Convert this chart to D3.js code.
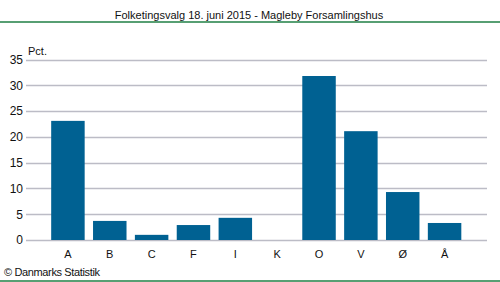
<!DOCTYPE html>
<html>
<head>
<meta charset="utf-8">
<script src="https://cdn.jsdelivr.net/npm/d3@7"></script>
<style>
  body { margin: 0; background: #fff; }
  text { font-family: "Liberation Sans", Arial, sans-serif; fill: #111; }
</style>
</head>
<body>
<div id="chart"></div>
<script>
const parties = ['A', 'B', 'C', 'F', 'I', 'K', 'O', 'V', 'Ø', 'Å']
const shares = [23.1, 3.7, 1.0, 2.9, 4.3, 0, 31.8, 21.1, 9.3, 3.3]
const yTicks = [0, 5, 10, 15, 20, 25, 30, 35]
const title = 'Folketingsvalg 18. juni 2015 - Magleby Forsamlingshus'

const w = 500, h = 282
const plotLeft = 26, plotRight = 487, plotTop = 59.5, plotBottom = 240

const svg = d3.select('#chart').append('svg')
              .attr('width', w)
              .attr('height', h)

// green frame lines
svg.append('line').attr('x1', 0).attr('x2', w).attr('y1', 22).attr('y2', 22)
   .attr('stroke', '#1f7f45').attr('stroke-width', 1.5)
svg.append('line').attr('x1', 0).attr('x2', w).attr('y1', 281).attr('y2', 281)
   .attr('stroke', '#1f7f45').attr('stroke-width', 1.5)

svg.append('text')
   .attr('x', 249).attr('y', 19)
   .attr('text-anchor', 'middle')
   .style('font-size', '11px')
   .text(title)

const xScale = d3.scaleBand()
                 .domain(parties)
                 .range([47, 465.5])
                 .paddingInner(0.2)
                 .paddingOuter(0.1)

const yScale = d3.scaleLinear()
                 .domain([0, 35])
                 .range([plotBottom, plotTop])

// grid
svg.append('g')
   .selectAll('line')
   .data(yTicks)
   .enter()
   .append('line')
   .attr('x1', plotLeft).attr('x2', plotRight)
   .attr('y1', d => Math.round(yScale(d)) + 0.5)
   .attr('y2', d => Math.round(yScale(d)) + 0.5)
   .attr('stroke', '#bcbcc6')
   .attr('stroke-width', 1.5)

const yAxis = svg.append('g')
                 .attr('transform', 'translate(' + plotLeft + ',0)')
                 .call(d3.axisLeft(yScale).tickValues(yTicks).tickSize(0).tickPadding(3))
yAxis.select('.domain').remove()
yAxis.selectAll('text').style('font-size', '12px').attr('fill', '#111')
     .style('font-family', '"Liberation Sans", Arial, sans-serif')

svg.append('text')
   .attr('x', 28).attr('y', 55)
   .style('font-size', '11px')
   .text('Pct.')

svg.selectAll('rect.bar')
   .data(parties)
   .enter()
   .append('rect')
   .attr('class', 'bar')
   .attr('x', d => xScale(d))
   .attr('y', (d, i) => yScale(shares[i]))
   .attr('width', xScale.bandwidth())
   .attr('height', (d, i) => plotBottom - yScale(shares[i]))
   .attr('fill', '#006192')

const xAxis = svg.append('g')
                 .attr('transform', 'translate(0,' + plotBottom + ')')
                 .call(d3.axisBottom(xScale).tickSize(0).tickPadding(10))
xAxis.select('.domain').remove()
xAxis.selectAll('text').style('font-size', '11px').attr('fill', '#111')
     .style('font-family', '"Liberation Sans", Arial, sans-serif')

svg.append('text')
   .attr('x', 4).attr('y', 276)
   .style('font-size', '11px')
   .attr('textLength', 96)
   .text('© Danmarks Statistik')
</script>
</body>
</html>
